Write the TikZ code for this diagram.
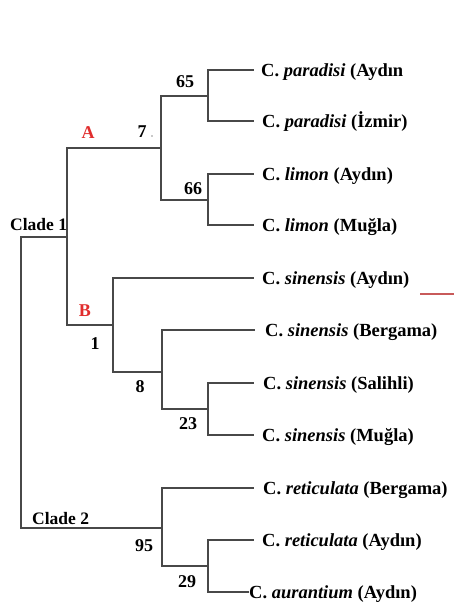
\documentclass[tikz,border=0pt]{standalone}
\usepackage{fontspec}
\setmainfont{Liberation Serif}
\definecolor{treegray}{RGB}{72,72,72}
\definecolor{markred}{RGB}{225,45,45}
\definecolor{tickred}{RGB}{200,90,90}
\tikzset{
  branch/.style={draw=treegray, line width=1.8pt, line cap=rect},
  taxon/.style={anchor=base west, inner sep=0pt, text=black,
                font=\fontsize{18.5}{21}\selectfont\bfseries},
  support/.style={inner sep=0pt, text=black,
                  font=\fontsize{18}{21}\selectfont\bfseries},
  cladename/.style={anchor=base west, inner sep=0pt, text=black,
                    font=\fontsize{17.5}{20}\selectfont\bfseries},
  group/.style={inner sep=0pt, text=markred,
                font=\fontsize{18}{21}\selectfont\bfseries},
}
\newcommand{\taxname}[2]{C. \textit{#1} (#2}
\begin{document}
\begin{tikzpicture}[x=1pt, y=-1pt]
\useasboundingbox (0,0) rectangle (454,603);

% internal nodes of the tree (x = depth, y = midpoint of the children)
\coordinate (root) at (21,382);
\coordinate (c1)   at (67,237);
\coordinate (gA)   at (161,148);
\coordinate (par)  at (208,96);
\coordinate (lim)  at (208,200);
\coordinate (gB)   at (113,325);
\coordinate (sinA) at (162,372);
\coordinate (sinB) at (208,409);
\coordinate (c2)   at (162,528);
\coordinate (ret)  at (208,566);

% leaf tips
\coordinate (t1)  at (253,70);
\coordinate (t2)  at (253,121);
\coordinate (t3)  at (253,174);
\coordinate (t4)  at (253,225);
\coordinate (t5)  at (253,278);
\coordinate (t6)  at (254,330);
\coordinate (t7)  at (253,383);
\coordinate (t8)  at (253,435);
\coordinate (t9)  at (253,488);
\coordinate (t10) at (253,540);
\coordinate (t11) at (248,592);

% branches
\draw[branch] (root) |- (c1);
\draw[branch] (root) |- (c2);
\draw[branch] (c1) |- (gA);
\draw[branch] (c1) |- (gB);
\draw[branch] (gA) |- (par);
\draw[branch] (gA) |- (lim);
\draw[branch] (par) |- (t1);
\draw[branch] (par) |- (t2);
\draw[branch] (lim) |- (t3);
\draw[branch] (lim) |- (t4);
\draw[branch] (gB) |- (t5);
\draw[branch] (gB) |- (sinA);
\draw[branch] (sinA) |- (t6);
\draw[branch] (sinA) |- (sinB);
\draw[branch] (sinB) |- (t7);
\draw[branch] (sinB) |- (t8);
\draw[branch] (c2) |- (t9);
\draw[branch] (c2) |- (ret);
\draw[branch] (ret) |- (t10);
\draw[branch] (ret) |- (t11);

% taxon labels
\node[taxon] (n1)  at (261,76)  {\taxname{paradisi}{Aydın}};
\node[taxon] (n2)  at (262,127) {\taxname{paradisi}{İzmir)}};
\node[taxon] (n3)  at (262,180) {\taxname{limon}{Aydın)}};
\node[taxon] (n4)  at (262,231) {\taxname{limon}{Muğla)}};
\node[taxon] (n5)  at (262,284) {\taxname{sinensis}{Aydın)}};
\node[taxon] (n6)  at (265,336) {\taxname{sinensis}{Bergama)}};
\node[taxon] (n7)  at (263,389) {\taxname{sinensis}{Salihli)}};
\node[taxon] (n8)  at (262,441) {\taxname{sinensis}{Muğla)}};
\node[taxon] (n9)  at (263,494) {\taxname{reticulata}{Bergama)}};
\node[taxon] (n10) at (262,546) {\taxname{reticulata}{Aydın)}};
\node[taxon] (n11) at (249,598) {\taxname{aurantium}{Aydın)}};

% support values
\node[support] (b65) at (185,82)  {65};
\node[support] (b7)  at (142,132) {7};
\fill[treegray!60] (152,136) circle (0.9pt);
\node[support] (b66) at (193,189) {66};
\node[support] (b1)  at (95,344)  {1};
\node[support] (b8)  at (140,387) {8};
\node[support] (b23) at (188,424) {23};
\node[support] (b95) at (144,546) {95};
\node[support] (b29) at (187,582) {29};

% group and clade names
\node[group] (lA) at (88,133) {A};
\node[group] (lB) at (85,311) {B};
\node[cladename] (cl1) at (10,230) {Clade 1};
\node[cladename] (cl2) at (32,524) {Clade 2};

% red tick beside the sinensis group
\coordinate (m1) at (420,294);
\coordinate (m2) at (454,294);
\draw[draw=tickred, line width=1.3pt] (m1) -- (m2);
\end{tikzpicture}
\end{document}
